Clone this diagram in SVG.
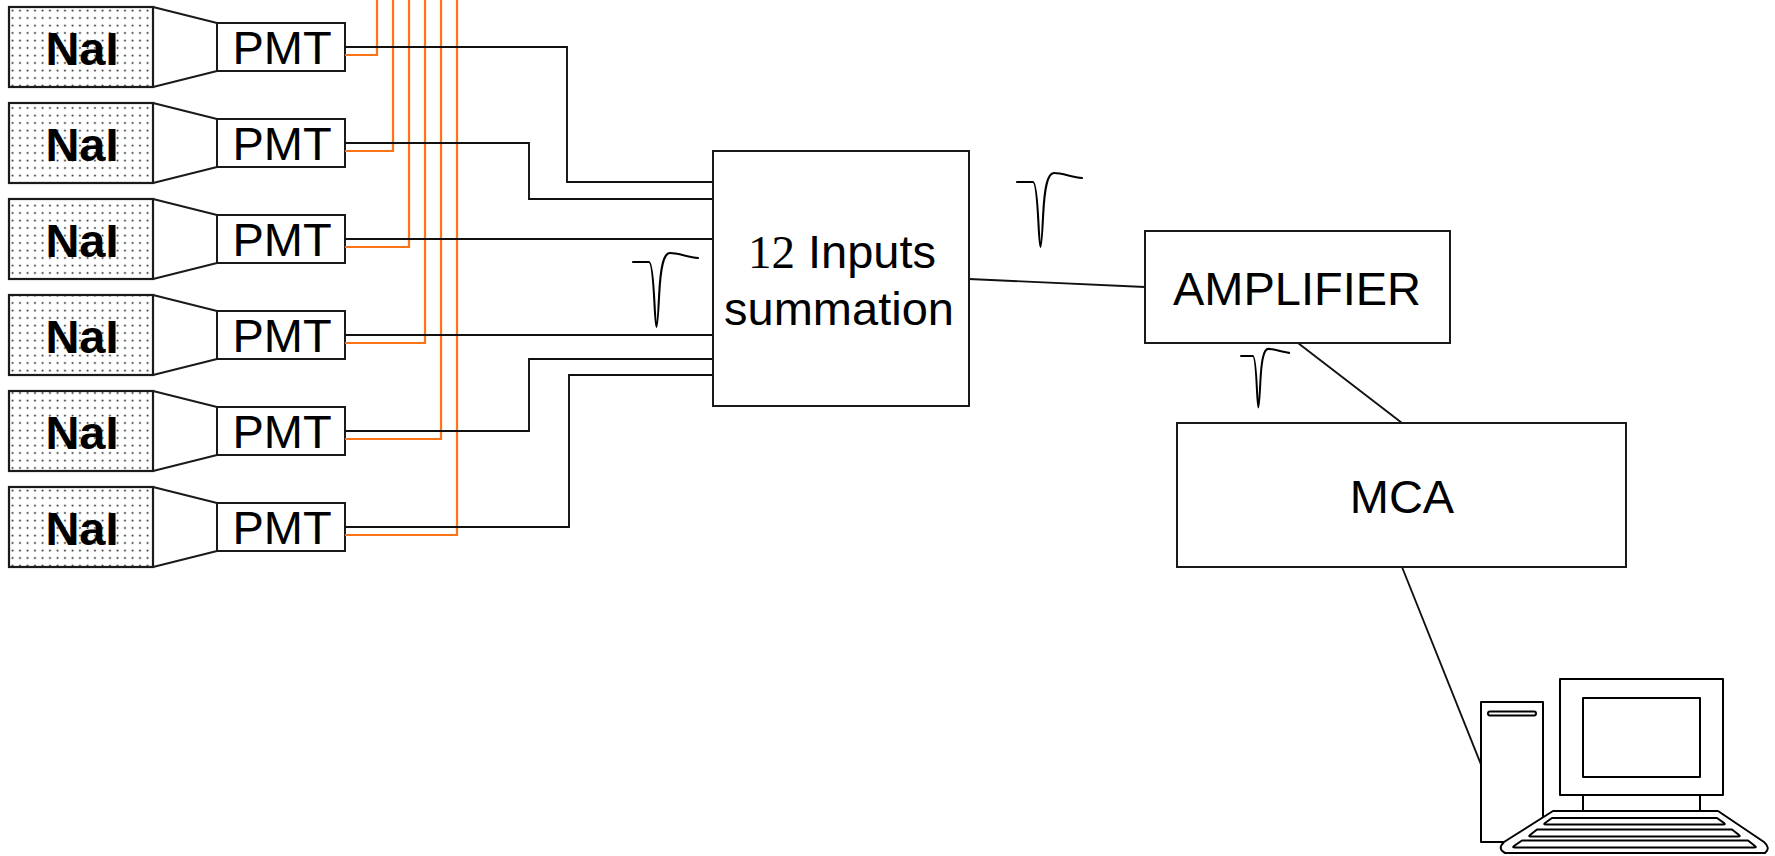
<svg xmlns="http://www.w3.org/2000/svg" xmlns:xlink="http://www.w3.org/1999/xlink" width="1775" height="856" viewBox="0 0 1775 856">
  <style>
    .box { fill: #ffffff; stroke: #1a1a1a; stroke-width: 2; }
    .crystal { fill: url(#dots); stroke: #1a1a1a; stroke-width: 2.2; }
    .guide { fill: none; stroke: #1a1a1a; stroke-width: 2; }
    .wire { fill: none; stroke: #111111; stroke-width: 1.9; }
    .hv { fill: none; stroke: #ff7417; stroke-width: 2.2; }
    .pulse { fill: none; stroke: #000000; stroke-width: 2.1; stroke-linejoin: round; stroke-linecap: round; }
    .pc { fill: #ffffff; stroke: #000000; stroke-width: 2; stroke-linejoin: round; }
    .lbl { font-family: "Liberation Sans", Arial, sans-serif; font-size: 47px; fill: #000000; text-anchor: middle; }
    .bold { font-weight: bold; }
    .serif { font-family: "Liberation Serif", "Times New Roman", serif; }
  </style>
  <defs>
    <pattern id="dots" width="7.5" height="7.5" patternUnits="userSpaceOnUse" x="9" y="7">
      <rect width="7.5" height="7.5" fill="#ffffff"/>
      <circle cx="3.5" cy="3.5" r="1" fill="#222222"/>
    </pattern>
    <!-- one negative detector pulse with its baseline tick -->
    <path id="pulse" d="M0,0 H16 C19,0 20.5,22 21.5,42 C22.2,56 22.8,65 23.5,65 C24.3,65 25.2,52 26.2,32 C27.5,8 30,-9 37,-9 C45,-9 55,-5 65,-4"/>
  </defs>

  <!-- detector chain: scintillator, light guide, photomultiplier -->
  <g id="det1">
    <rect class="crystal" x="9" y="7" width="144" height="80"/>
    <path class="guide" d="M153,7 L217,23 M153,87 L217,71"/>
    <rect class="box" x="217" y="23" width="128" height="48"/>
    <text class="lbl bold" x="82" y="65">NaI</text>
    <text class="lbl" x="282" y="64">PMT</text>
  </g>
  <g id="det2">
    <rect class="crystal" x="9" y="103" width="144" height="80"/>
    <path class="guide" d="M153,103 L217,119 M153,183 L217,167"/>
    <rect class="box" x="217" y="119" width="128" height="48"/>
    <text class="lbl bold" x="82" y="161">NaI</text>
    <text class="lbl" x="282" y="160">PMT</text>
  </g>
  <g id="det3">
    <rect class="crystal" x="9" y="199" width="144" height="80"/>
    <path class="guide" d="M153,199 L217,215 M153,279 L217,263"/>
    <rect class="box" x="217" y="215" width="128" height="48"/>
    <text class="lbl bold" x="82" y="257">NaI</text>
    <text class="lbl" x="282" y="256">PMT</text>
  </g>
  <g id="det4">
    <rect class="crystal" x="9" y="295" width="144" height="80"/>
    <path class="guide" d="M153,295 L217,311 M153,375 L217,359"/>
    <rect class="box" x="217" y="311" width="128" height="48"/>
    <text class="lbl bold" x="82" y="353">NaI</text>
    <text class="lbl" x="282" y="352">PMT</text>
  </g>
  <g id="det5">
    <rect class="crystal" x="9" y="391" width="144" height="80"/>
    <path class="guide" d="M153,391 L217,407 M153,471 L217,455"/>
    <rect class="box" x="217" y="407" width="128" height="48"/>
    <text class="lbl bold" x="82" y="449">NaI</text>
    <text class="lbl" x="282" y="448">PMT</text>
  </g>
  <g id="det6">
    <rect class="crystal" x="9" y="487" width="144" height="80"/>
    <path class="guide" d="M153,487 L217,503 M153,567 L217,551"/>
    <rect class="box" x="217" y="503" width="128" height="48"/>
    <text class="lbl bold" x="82" y="545">NaI</text>
    <text class="lbl" x="282" y="544">PMT</text>
  </g>

  <!-- signal and high-voltage wiring -->
  <g id="connectors">
    <path class="hv" d="M345,55 H377 V0"/>
    <path class="hv" d="M345,151 H393 V0"/>
    <path class="hv" d="M345,247 H409 V0"/>
    <path class="hv" d="M345,343 H425 V0"/>
    <path class="hv" d="M345,439 H441 V0"/>
    <path class="hv" d="M345,535 H457 V0"/>

    <path class="wire" d="M345,47 H567 V182 H713"/>
    <path class="wire" d="M345,143 H529 V199 H713"/>
    <path class="wire" d="M345,239 H713"/>
    <path class="wire" d="M345,335 H713"/>
    <path class="wire" d="M345,431 H529 V359 H713"/>
    <path class="wire" d="M345,527 H569 V375 H713"/>

    <path class="wire" d="M969,279 L1145,287"/>
    <path class="wire" d="M1298,343 L1402,423"/>
    <path class="wire" d="M1402,567 L1482,767"/>
  </g>

  <!-- pulse sketches along the chain -->
  <g id="pulses">
    <use xlink:href="#pulse" class="pulse" transform="translate(633,262)"/>
    <use xlink:href="#pulse" class="pulse" transform="translate(1017,182)"/>
    <use xlink:href="#pulse" class="pulse" transform="translate(1241,356) scale(0.74,0.79)" style="stroke-width:2.7"/>
  </g>

  <g id="summation">
    <rect class="box" x="713" y="151" width="256" height="255"/>
    <text class="lbl" x="842" y="268" font-size="46"><tspan class="serif">12</tspan> Inputs</text>
    <text class="lbl" x="839" y="325" font-size="46">summation</text>
  </g>

  <g id="amplifier">
    <rect class="box" x="1145" y="231" width="305" height="112"/>
    <text class="lbl" x="1297" y="305">AMPLIFIER</text>
  </g>

  <g id="mca">
    <rect class="box" x="1177" y="423" width="449" height="144"/>
    <text class="lbl" x="1402" y="513">MCA</text>
  </g>

  <g id="computer">
    <rect class="pc" x="1481" y="702" width="62" height="140"/>
    <rect class="pc" x="1488" y="711.5" width="48" height="4" rx="2"/>
    <rect class="pc" x="1560" y="679" width="163" height="116"/>
    <rect class="pc" x="1583" y="698" width="117" height="79"/>
    <path class="pc" d="M1583,795 V812 M1700,795 V812"/>
    <path class="pc" d="M1553,811 H1718 L1764,842 Q1771,848 1765,853 H1505 Q1497,849 1504,842 Z"/>
    <path class="pc" d="M1552,818 H1717 L1724,823 Q1726,824.5 1723,824.5 H1546 Q1543,824.5 1545,823 Z"/>
    <path class="pc" d="M1537,829.5 H1732 L1739,835 Q1741,836.5 1738,836.5 H1531 Q1528,836.5 1530,835 Z"/>
    <path class="pc" d="M1522,840.5 H1748 L1755,846 Q1757,847.5 1754,847.5 H1515 Q1512,847.5 1514,846 Z"/>
  </g>
</svg>
